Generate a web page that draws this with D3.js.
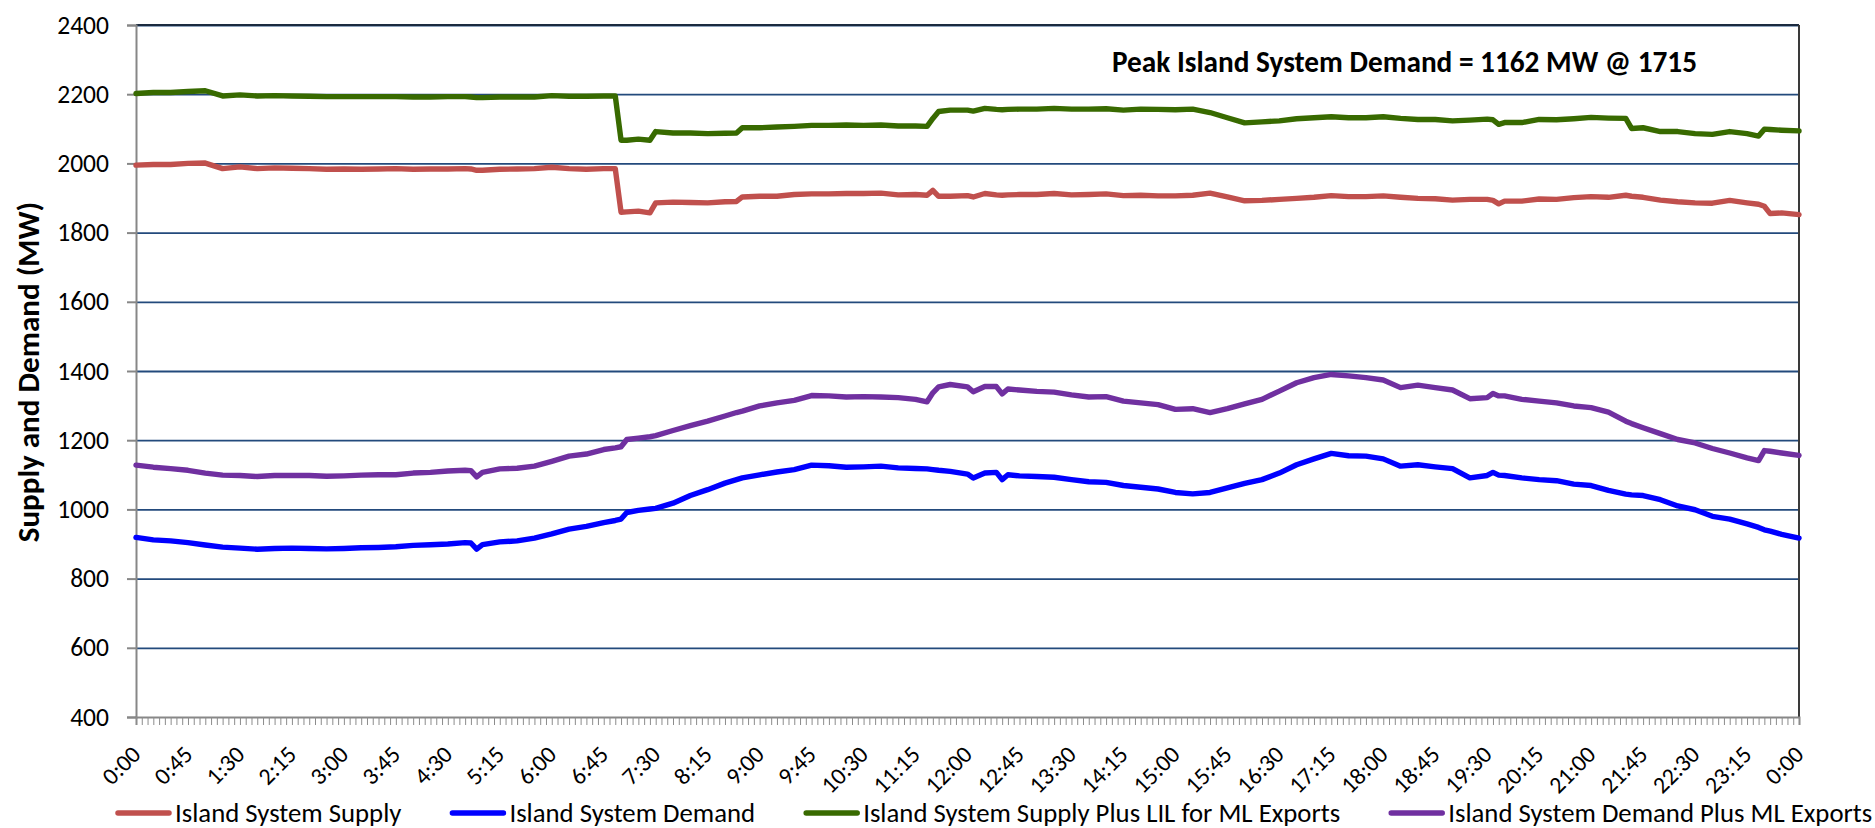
<!DOCTYPE html>
<html>
<head>
<meta charset="utf-8">
<script src="https://cdn.jsdelivr.net/npm/d3@7"></script>
<style>
  html, body { margin: 0; padding: 0; background: #ffffff; }
  svg { display: block; }
</style>
</head>
<body>
<svg id="chart" width="1875" height="828"></svg>
<script>
// ---------------- DATA ----------------
const times = ["0:00","0:15","0:30","0:45","1:00","1:15","1:30","1:45","2:00","2:15","2:30","2:45","3:00","3:15","3:30","3:45","4:00","4:15","4:30","4:45",
  "4:50","4:55",
  "5:00","5:15","5:30","5:45","6:00","6:15","6:30","6:45",
  "6:55","7:00","7:05",
  "7:15","7:25","7:30","7:45","8:00","8:15","8:30","8:40","8:45",
  "9:00","9:15","9:30","9:45","10:00","10:15","10:30","10:45","11:00","11:15",
  "11:25","11:30","11:35",
  "11:45","12:00","12:05","12:15","12:25","12:30","12:35",
  "12:45","13:00","13:15","13:30","13:45","14:00","14:15","14:30","14:45","15:00","15:15","15:30","15:45","16:00","16:15","16:30","16:45","17:00","17:15","17:30","17:45","18:00","18:15","18:30","18:45","19:00","19:15","19:30",
  "19:35","19:40",
  "19:45","20:00","20:15","20:30","20:45","21:00","21:15","21:30",
  "21:35",
  "21:45","22:00","22:15","22:30","22:45","23:00","23:15",
  "23:25","23:30","23:35",
  "23:45","24:00"];

const islandSupply = [1995,1997,1997,2000,2001,1985,1990,1985,1987,1986,1985,1983,1984,1983,1984,1985,1983,1984,1984,1985,
  1984,1980,
  1980,1983,1984,1985,1989,1985,1983,1985,
  1985,1859,1860,
  1862,1857,1886,1888,1887,1886,1889,1890,1903,
  1905,1905,1910,1912,1912,1913,1913,1914,1909,1910,
  1908,1922,1905,
  1905,1907,1903,1913,1909,1908,1909,
  1910,1910,1913,1909,1910,1912,1907,1908,1906,1906,1908,1914,1903,1892,1893,1896,1899,1902,1907,1904,1904,1906,1902,1899,1898,1894,1896,1896,
  1893,1883,
  1891,1891,1897,1896,1901,1904,1902,1908,
  1905,
  1902,1894,1889,1886,1885,1893,1886,
  1882,1876,1855,
  1857,1852];

const islandDemand = [919,912,909,904,897,891,888,885,887,888,887,886,887,889,890,892,896,898,900,904,
  903,885,
  898,906,909,917,929,943,951,962,
  968,972,991,
  997,1001,1003,1018,1040,1057,1076,1086,1091,
  1100,1108,1115,1128,1126,1122,1123,1125,1120,1118,
  1117,1115,1113,
  1110,1102,1091,1105,1107,1086,1100,
  1097,1095,1093,1086,1080,1078,1069,1064,1059,1049,1045,1049,1062,1075,1086,1105,1129,1146,1162,1155,1154,1146,1125,1129,1123,1118,1091,1098,
  1107,1099,
  1098,1091,1086,1083,1073,1069,1055,1044,
  1042,
  1040,1028,1010,999,980,972,958,
  948,941,937,
  928,917];

const supplyPlusLIL = [2202,2205,2205,2208,2210,2195,2198,2195,2196,2195,2194,2193,2193,2193,2193,2193,2192,2192,2193,2193,
  2192,2190,
  2190,2192,2192,2192,2196,2194,2194,2195,
  2195,2067,2067,
  2070,2067,2092,2088,2088,2086,2087,2088,2103,
  2103,2105,2107,2110,2110,2111,2110,2111,2108,2108,
  2107,2130,2150,
  2154,2154,2151,2159,2156,2155,2156,
  2157,2157,2159,2157,2157,2158,2154,2157,2156,2155,2157,2147,2132,2117,2120,2123,2129,2132,2135,2132,2132,2135,2130,2127,2127,2123,2125,2128,
  2126,2113,
  2118,2118,2127,2126,2129,2133,2131,2130,
  2101,
  2103,2092,2092,2086,2084,2092,2086,
  2079,2099,2098,
  2096,2094];

const demandPlusML = [1128,1122,1118,1113,1105,1099,1098,1095,1098,1098,1098,1096,1097,1099,1100,1100,1105,1107,1111,1113,
  1112,1094,
  1107,1117,1119,1125,1139,1154,1160,1173,
  1178,1181,1202,
  1206,1210,1213,1228,1242,1255,1270,1280,1284,
  1299,1308,1315,1329,1328,1325,1326,1325,1323,1318,
  1311,1337,1354,
  1361,1354,1340,1355,1355,1334,1348,
  1345,1341,1339,1331,1325,1326,1313,1308,1303,1289,1291,1280,1291,1305,1318,1342,1366,1381,1390,1386,1381,1374,1352,1359,1352,1345,1320,1323,
  1335,1328,
  1328,1318,1313,1308,1299,1294,1281,1255,
  1248,
  1236,1219,1202,1192,1176,1163,1149,
  1141,1170,1168,
  1163,1156];

const seriesNames  = ["Island System Supply","Island System Demand","Island System Supply Plus LIL for ML Exports","Island System Demand Plus ML Exports"];
const seriesColors = ["#C0504D","#0000FF","#386A00","#7030A0"];
const seriesValues = [islandSupply, islandDemand, supplyPlusLIL, demandPlusML];

const yTicks = [400,600,800,1000,1200,1400,1600,1800,2000,2200,2400];
const xTickLabels = ["0:00","0:45","1:30","2:15","3:00","3:45","4:30","5:15","6:00","6:45","7:30","8:15","9:00","9:45","10:30","11:15",
  "12:00","12:45","13:30","14:15","15:00","15:45","16:30","17:15","18:00","18:45","19:30","20:15","21:00","21:45","22:30","23:15","0:00"];
const yTitle = "Supply and Demand (MW)";
const annotationText = "Peak Island System Demand = 1162 MW @ 1715";

// ---------------- LAYOUT ----------------
const svg = d3.select("#chart");
const FONT = "Carlito, Lato, 'Noto Sans', sans-serif";
const plot = {left: 136, right: 1799, top: 25, bottom: 717};

function toMin(s) { const p = s.split(":"); return (+p[0]) * 60 + (+p[1]); }
const mins = times.map(toMin);

// calibrate font sizes to Calibri-like widths
function measure(text, size, weight) {
  const t = svg.append("text").attr("font-family", FONT).attr("font-size", size)
    .attr("font-weight", weight).text(text);
  const w = t.node().getComputedTextLength();
  t.remove();
  return w;
}
const kReg  = (15.89 * 100) / measure("Island System Demand Plus ML Exports", 100, "normal");
const kBold = (20.04 * 100) / measure(annotationText, 100, "bold");
const fsY = 25.5 * kReg, fsX = 23.8 * kReg, fsLeg = 26.7 * kReg;
const fsAnn = 29.2 * kBold, fsTitle = 31 * kBold;

const x = d3.scaleLinear().domain([0, 1440]).range([plot.left, plot.right]);
const y = d3.scaleLinear().domain([400, 2400]).range([plot.bottom, plot.top]);

// gridlines
const grid = svg.append("g")
  .attr("transform", `translate(${plot.left},0)`)
  .call(d3.axisLeft(y).tickValues(yTicks.filter(v => v > 400)).tickSize(-(plot.right - plot.left)).tickFormat(""));
grid.select(".domain").remove();
grid.selectAll("line").attr("stroke", "#234A7C").attr("stroke-width", 1.8);

// plot frame top/right
svg.append("line").attr("x1", plot.left).attr("x2", plot.right).attr("y1", y(2400)).attr("y2", y(2400))
  .attr("stroke", "#1B2A3F").attr("stroke-width", 2);
svg.append("line").attr("x1", plot.right).attr("x2", plot.right).attr("y1", plot.top).attr("y2", plot.bottom)
  .attr("stroke", "#3A3A3A").attr("stroke-width", 2);

// y axis
const yAxis = svg.append("g")
  .attr("transform", `translate(${plot.left},0)`)
  .call(d3.axisLeft(y).tickValues(yTicks).tickSize(9).tickPadding(18).tickFormat(d3.format("d")));
yAxis.select(".domain").attr("stroke", "#878787").attr("stroke-width", 2);
yAxis.selectAll(".tick line").attr("stroke", "#878787").attr("stroke-width", 2);
yAxis.selectAll(".tick text").attr("font-family", FONT).attr("font-size", fsY).attr("fill", "#000");

// x axis: minor ticks every 5 min
const xAxis = svg.append("g")
  .attr("transform", `translate(0,${plot.bottom})`)
  .call(d3.axisBottom(x).tickValues(d3.range(0, 1441, 5)).tickSize(8).tickFormat(""));
xAxis.select(".domain").attr("stroke", "#878787").attr("stroke-width", 2);
xAxis.selectAll(".tick line").attr("stroke", "#8C8C8C").attr("stroke-width", 1);

// x labels every 45 min
const labelMins = d3.range(0, 1441, 45);
svg.append("g").selectAll("text")
  .data(labelMins)
  .join("text")
  .attr("transform", (m) => `translate(${x(m) + 6},756) rotate(-45)`)
  .attr("text-anchor", "end")
  .attr("font-family", FONT)
  .attr("font-size", fsX)
  .attr("fill", "#000")
  .text((m, i) => xTickLabels[i]);

// lines
const line = d3.line().x((d) => x(d[0])).y((d) => y(d[1]));
seriesValues.forEach((vals, i) => {
  svg.append("path")
    .datum(vals.map((v, j) => [mins[j], v]))
    .attr("d", line)
    .attr("fill", "none")
    .attr("stroke", seriesColors[i])
    .attr("stroke-width", 5.4)
    .attr("stroke-linejoin", "round")
    .attr("stroke-linecap", "round");
});

// annotation
svg.append("text")
  .attr("x", 1112).attr("y", 72)
  .attr("font-family", FONT).attr("font-weight", "bold").attr("font-size", fsAnn)
  .attr("fill", "#000")
  .text(annotationText);

// y title
svg.append("text")
  .attr("transform", "translate(39,372) rotate(-90)")
  .attr("text-anchor", "middle")
  .attr("font-family", FONT).attr("font-weight", "bold").attr("font-size", fsTitle)
  .attr("fill", "#000")
  .text(yTitle);

// legend
const leg = svg.append("g");
let cx = 116;
const legY = 813;
seriesNames.forEach((name, i) => {
  leg.append("line").attr("x1", cx + 2).attr("x2", cx + 53).attr("y1", legY).attr("y2", legY)
    .attr("stroke", seriesColors[i]).attr("stroke-width", 5.5).attr("stroke-linecap", "round");
  const t = leg.append("text").attr("x", cx + 59).attr("y", legY)
    .attr("dominant-baseline", "central")
    .attr("font-family", FONT).attr("font-size", fsLeg).attr("fill", "#000").text(name);
  cx += 59 + t.node().getComputedTextLength() + 49;
});
</script>
</body>
</html>
